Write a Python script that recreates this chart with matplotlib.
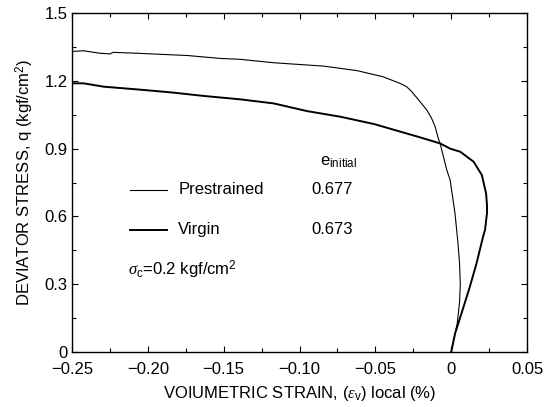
import matplotlib
matplotlib.use("Agg")
import matplotlib.pyplot as plt
from matplotlib.ticker import MultipleLocator

plt.rcParams['font.family'] = ['Liberation Sans', 'DejaVu Sans']
plt.rcParams['mathtext.fontset'] = 'custom'
plt.rcParams['mathtext.rm'] = 'Liberation Sans'
plt.rcParams['mathtext.it'] = 'Liberation Serif:italic'
plt.rcParams['axes.unicode_minus'] = True

# Prestrained (thin line)
pre_strain = [-0.25, -0.2425, -0.2315, -0.225, -0.223, -0.207, -0.174, -0.152, -0.139,
              -0.117, -0.084, -0.062, -0.045, -0.0338, -0.0294, -0.026, -0.0206,
              -0.016, -0.0129, -0.0106, -0.0085, -0.0073, -0.0029, -0.0007,
              0.0025, 0.0045, 0.0055, 0.006, 0.0055, 0.004, 0.0015, 0.0]
pre_q = [1.330, 1.333, 1.322, 1.319, 1.326, 1.322, 1.312, 1.299, 1.295,
         1.280, 1.265, 1.245, 1.218, 1.189, 1.174, 1.152, 1.108,
         1.070, 1.034, 0.997, 0.945, 0.923, 0.805, 0.761,
         0.614, 0.48, 0.392, 0.300, 0.220, 0.127, 0.050, 0.0]

# Virgin (thick line)
vir_strain = [-0.25, -0.2425, -0.229, -0.207, -0.185, -0.163, -0.139, -0.117, -0.095,
              -0.073, -0.051, -0.0206, -0.0073, -0.0007, 0.006, 0.0148, 0.0202,
              0.023, 0.0236, 0.0236, 0.0223, 0.021, 0.0167, 0.0123, 0.0068,
              0.0026, 0.0]
vir_q = [1.189, 1.189, 1.174, 1.162, 1.149, 1.133, 1.118, 1.100, 1.066,
         1.041, 1.009, 0.950, 0.923, 0.900, 0.886, 0.842, 0.783,
         0.702, 0.650, 0.614, 0.540, 0.510, 0.392, 0.289, 0.171,
         0.083, 0.0]

xticks = [-0.25, -0.20, -0.15, -0.10, -0.05, 0, 0.05]
xtick_labels = ['\u22120.25', '\u22120.20', '\u22120.15', '\u22120.10', '\u22120.05', '0', '0.05']
yticks = [0, 0.3, 0.6, 0.9, 1.2, 1.5]
ytick_labels = ['0', '0.3', '0.6', '0.9', '1.2', '1.5']

fig = plt.figure(figsize=(5.44, 4.07), dpi=100)
ax = fig.add_axes([0.1324, 0.1351, 0.8364, 0.8329])

ax.plot(pre_strain, pre_q, color='black', lw=0.8)
ax.plot(vir_strain, vir_q, color='black', lw=1.4)

ax.set_xlim(-0.25, 0.05)
ax.set_ylim(0, 1.5)
ax.set_xticks(xticks)
ax.set_xticklabels(xtick_labels)
ax.set_yticks(yticks)
ax.set_yticklabels(ytick_labels)
ax.xaxis.set_minor_locator(MultipleLocator(0.025))
ax.yaxis.set_minor_locator(MultipleLocator(0.15))
ax.tick_params(which='both', direction='in', top=True, right=True, labelsize=12)
ax.tick_params(which='major', length=4, width=0.8)
ax.tick_params(which='minor', length=3, width=0.8)
ax.tick_params(axis='x', pad=7)
ax.tick_params(axis='y', pad=3)
for s in ax.spines.values():
    s.set_linewidth(1.0)

ax.set_xlabel('VOIUMETRIC STRAIN, ($\\varepsilon_\\mathrm{v}$) local (%)', fontsize=12, labelpad=5)
ax.set_ylabel('DEVIATOR STRESS, q (kgf/cm$^2$)', fontsize=12, labelpad=6)

# legend-like annotations
ax.text(-0.0865, 0.84, 'e$_{\\mathrm{initial}}$', fontsize=12, ha='left', va='center')
ax.plot([-0.212, -0.1875], [0.717, 0.717], color='black', lw=0.8)
ax.text(-0.180, 0.717, 'Prestrained', fontsize=12, ha='left', va='center')
ax.text(-0.0925, 0.717, '0.677', fontsize=12, ha='left', va='center')
ax.plot([-0.212, -0.1875], [0.54, 0.54], color='black', lw=1.4)
ax.text(-0.180, 0.54, 'Virgin', fontsize=12, ha='left', va='center')
ax.text(-0.0925, 0.54, '0.673', fontsize=12, ha='left', va='center')
ax.text(-0.213, 0.363, '$\\mathit{\\sigma}_\\mathrm{c}$=0.2 kgf/cm$^2$', fontsize=12, ha='left', va='center')

fig.savefig('out.png', dpi=100)
